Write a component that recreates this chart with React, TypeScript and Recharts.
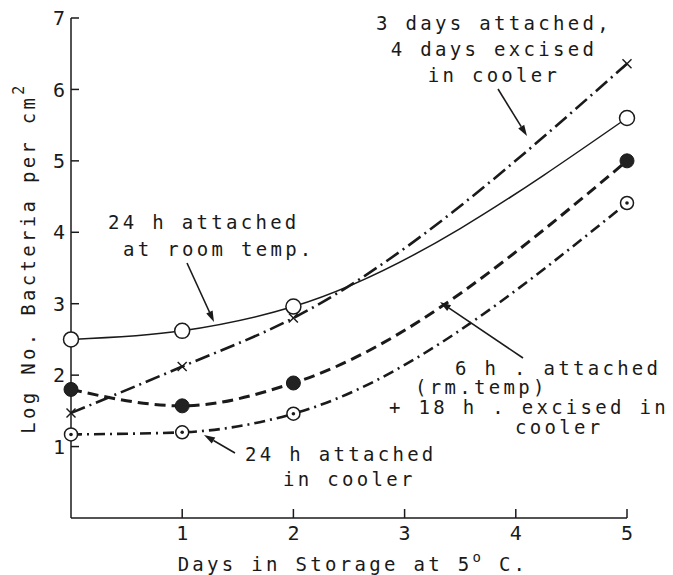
import React from "react"
import { LineChart, Line, XAxis, YAxis } from "recharts"

const days = [0, 1, 2, 5]
const roomTemp24h = [2.5, 2.62, 2.96, 5.6]
const attached3Excised4 = [1.47, 2.12, 2.8, 6.36]
const attached6Excised18 = [1.8, 1.57, 1.89, 5.0]
const cooler24h = [1.17, 1.2, 1.46, 4.41]
const xTicks = [1, 2, 3, 4, 5]
const yTicks = [1, 2, 3, 4, 5, 6, 7]

const data = days.map((d, i) => ({
  day: d,
  room: roomTemp24h[i],
  excised4: attached3Excised4[i],
  excised18: attached6Excised18[i],
  cooler: cooler24h[i],
}))

const INK = "#1a1a1a"
const FONT = "'DejaVu Sans Mono', monospace"

function OpenDot({ cx, cy, index }: any) {
  return <circle key={index} cx={cx} cy={cy} r={7.5} fill="#fff" stroke={INK} strokeWidth={1.5} />
}

function FilledDot({ cx, cy, index }: any) {
  return <circle key={index} cx={cx} cy={cy} r={7} fill="#222" stroke={INK} strokeWidth={1} />
}

function CenterDot({ cx, cy, index }: any) {
  return (
    <g key={index}>
      <circle cx={cx} cy={cy} r={6.5} fill="#fff" stroke={INK} strokeWidth={1.5} />
      <circle cx={cx} cy={cy} r={1.8} fill={INK} />
    </g>
  )
}

function CrossDot({ cx, cy, index }: any) {
  const s = 4.5
  return (
    <g key={index} stroke={INK} strokeWidth={1.4}>
      <line x1={cx - s} y1={cy - s} x2={cx + s} y2={cy + s} />
      <line x1={cx - s} y1={cy + s} x2={cx + s} y2={cy - s} />
    </g>
  )
}

function Arrow({ x1, y1, x2, y2 }: { x1: number; y1: number; x2: number; y2: number }) {
  const a = Math.atan2(y2 - y1, x2 - x1)
  const len = 11
  const w = 3.5
  const bx = x2 - len * Math.cos(a)
  const by = y2 - len * Math.sin(a)
  const px = -Math.sin(a) * w
  const py = Math.cos(a) * w
  return (
    <g>
      <line x1={x1} y1={y1} x2={bx} y2={by} stroke={INK} strokeWidth={1.6} />
      <polygon points={`${x2},${y2} ${bx + px},${by + py} ${bx - px},${by - py}`} fill={INK} />
    </g>
  )
}

const txt = { fontFamily: FONT, fontSize: 19, letterSpacing: 3.3, fill: INK } as const

export default function App() {
  return (
    <div style={{ position: "absolute", left: 0, top: 0, width: 673, height: 575, background: "#fff" }}>
      <LineChart width={673} height={575} data={data} margin={{ top: 18, right: 46, bottom: 17, left: 11 }}>
        <XAxis
          dataKey="day"
          type="number"
          domain={[0, 5]}
          ticks={xTicks}
          tickSize={-9}
          tickMargin={17}
          height={40}
          axisLine={{ stroke: INK, strokeWidth: 1.5 }}
          tickLine={{ stroke: INK, strokeWidth: 1.5 }}
          tick={{ fill: INK, fontSize: 20, fontFamily: FONT }}
        />
        <YAxis
          type="number"
          domain={[0, 7]}
          ticks={yTicks}
          tickSize={-8}
          tickMargin={14}
          width={60}
          axisLine={{ stroke: INK, strokeWidth: 1.5 }}
          tickLine={{ stroke: INK, strokeWidth: 1.5 }}
          tick={{ fill: INK, fontSize: 20, fontFamily: FONT }}
        />
        <Line
          dataKey="room"
          type="monotone"
          stroke={INK}
          strokeWidth={1.5}
          dot={(p: any) => <OpenDot {...p} />}
          isAnimationActive={false}
        />
        <Line
          dataKey="excised4"
          type="monotone"
          stroke={INK}
          strokeWidth={2.6}
          strokeDasharray="15 5 2 5"
          dot={(p: any) => <CrossDot {...p} />}
          isAnimationActive={false}
        />
        <Line
          dataKey="excised18"
          type="monotone"
          stroke={INK}
          strokeWidth={3}
          strokeDasharray="11 6"
          dot={(p: any) => <FilledDot {...p} />}
          isAnimationActive={false}
        />
        <Line
          dataKey="cooler"
          type="monotone"
          stroke={INK}
          strokeWidth={2.6}
          strokeDasharray="11 5 2 5"
          dot={(p: any) => <CenterDot {...p} />}
          isAnimationActive={false}
        />
      </LineChart>
      <svg
        width={673}
        height={575}
        style={{ position: "absolute", left: 0, top: 0, pointerEvents: "none" }}
      >
        <text x={494} y={30} textAnchor="middle" {...txt}>3 days attached,</text>
        <text x={494} y={56} textAnchor="middle" {...txt}>4 days excised</text>
        <text x={494} y={82} textAnchor="middle" {...txt}>in cooler</text>
        <Arrow x1={498} y1={89} x2={527} y2={136} />

        <text x={108} y={229} {...txt}>24 h attached</text>
        <text x={123} y={256} {...txt}>at room temp.</text>
        <Arrow x1={187} y1={263} x2={214} y2={322} />

        <text x={455} y={375} {...txt}>6 h . attached</text>
        <text x={415} y={394} {...txt}>(rm.temp)</text>
        <text x={389} y={414} {...txt}>+ 18 h . excised in</text>
        <text x={515} y={434} {...txt}>cooler</text>
        <Arrow x1={523} y1={358} x2={440} y2={302} />

        <text x={245} y={461} {...txt}>24 h attached</text>
        <text x={283} y={486} {...txt}>in cooler</text>
        <Arrow x1={235} y1={453} x2={204} y2={435} />

        <text
          x={28}
          y={258}
          textAnchor="middle"
          dominantBaseline="central"
          transform="rotate(-90 28 258)"
          {...txt}
        >
          Log No. Bacteria per cm<tspan dy={-9} fontSize={15}>2</tspan>
        </text>
        <text x={353} y={571} textAnchor="middle" {...txt}>
          Days in Storage at 5<tspan dy={-9} fontSize={14}>o</tspan>
          <tspan dy={9}> C.</tspan>
        </text>
      </svg>
    </div>
  )
}
